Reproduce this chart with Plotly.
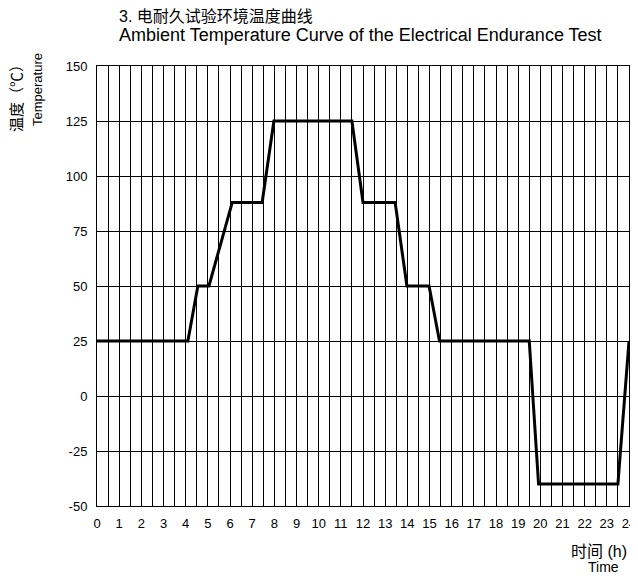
import plotly.graph_objects as go

# Data (hours, °C)
time_h = [0, 4.1, 4.55, 5.05, 6.1, 7.45, 7.98, 11.5, 12.0, 13.45, 13.98, 14.98, 15.45, 19.5, 19.92, 23.5, 24.0]
temp_c = [25, 25, 50, 50, 88, 88, 125, 125, 88, 88, 50, 50, 25, 25, -40, -40, 25]

x_ticks = list(range(0, 25))
x_labels = [str(v) for v in x_ticks]
y_ticks = [150, 125, 100, 75, 50, 25, 0, -25, -50]
y_labels = [str(v) for v in y_ticks]

FONT = "Liberation Sans, Arial, Noto Sans CJK SC, sans-serif"

fig = go.Figure()
fig.add_trace(go.Scatter(x=time_h, y=temp_c, mode="lines",
                         line=dict(color="black", width=3), showlegend=False,
                         hoverinfo="skip"))

# page body has an 8px margin; keep the figure small enough to avoid scrollbars
OFF = 8
W, H = 638 - OFF, 583 - 2 * OFF
L, T = 97 - OFF, 66 - OFF
R = W - (629 - OFF)
B = H - (506 - OFF)
pw, ph = W - L - R, H - T - B

def px(xp):
    return (xp - OFF - L) / pw

def py(yp):
    return (H - B - (yp - OFF)) / ph

fig.update_layout(
    width=W, height=H,
    margin=dict(l=L, r=R, t=T, b=B, autoexpand=False),
    paper_bgcolor="white", plot_bgcolor="white",
    font=dict(family=FONT, color="black", size=13),
    xaxis=dict(range=[0, 24], tickvals=x_ticks, ticktext=x_labels,
               showgrid=True, gridcolor="black", gridwidth=1,
               minor=dict(dtick=0.5, tick0=0, showgrid=True, gridcolor="black", gridwidth=1),
               showline=True, linecolor="black", linewidth=1, mirror=True,
               zeroline=False, ticks="", ticklabelstandoff=5, automargin=False,
               tickfont=dict(size=13, family=FONT)),
    yaxis=dict(range=[-50, 150], tickvals=y_ticks, ticktext=y_labels,
               showgrid=True, gridcolor="black", gridwidth=1,
               showline=True, linecolor="black", linewidth=1, mirror=True,
               zeroline=False, ticks="", ticklabelstandoff=6, automargin=False,
               tickfont=dict(size=13, family=FONT)),
    annotations=[
        dict(text="3. 电耐久试验环境温度曲线", xref="paper", yref="paper",
             x=px(117), y=py(16), xanchor="left", yanchor="middle", showarrow=False,
             font=dict(size=16, family=FONT)),
        dict(text="Ambient Temperature Curve of the Electrical Endurance Test", xref="paper", yref="paper",
             x=px(117), y=py(35), xanchor="left", yanchor="middle", showarrow=False,
             font=dict(size=18, family=FONT)),
        dict(text="温度（℃）", xref="paper", yref="paper",
             x=px(16), y=py(95), xanchor="center", yanchor="middle", showarrow=False,
             textangle=-90, font=dict(size=15, family=FONT)),
        dict(text="Temperature", xref="paper", yref="paper",
             x=px(37), y=py(90), xanchor="center", yanchor="middle", showarrow=False,
             textangle=-90, font=dict(size=13, family=FONT)),
        dict(text="时间 (h)", xref="paper", yref="paper",
             x=px(599), y=py(551), xanchor="center", yanchor="middle", showarrow=False,
             font=dict(size=16, family=FONT)),
        dict(text="Time", xref="paper", yref="paper",
             x=px(603), y=py(567), xanchor="center", yanchor="middle", showarrow=False,
             font=dict(size=14, family=FONT)),
    ],
)

fig.write_html("out.html")
